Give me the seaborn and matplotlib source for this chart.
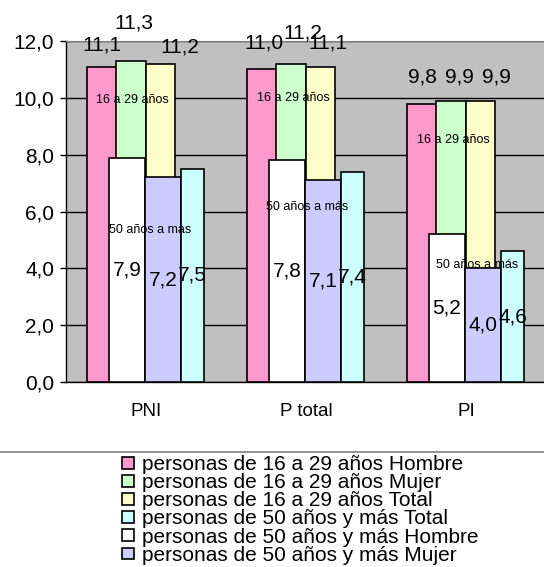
import numpy as np
import pandas as pd
import matplotlib
matplotlib.use('Agg')
import matplotlib.pyplot as plt
import seaborn as sns
from matplotlib.patches import Patch
from matplotlib.lines import Line2D
from matplotlib.ticker import FuncFormatter

# --- data ---
categories = ['PNI', 'P total', 'PI']
young_hombre = [11.1, 11.0, 9.8]
young_mujer = [11.3, 11.2, 9.9]
young_total = [11.2, 11.1, 9.9]
old_total = [7.5, 7.4, 4.6]
old_hombre = [7.9, 7.8, 5.2]
old_mujer = [7.2, 7.1, 4.0]
y_ticks = [0, 2, 4, 6, 8, 10, 12]

legend_labels = ['personas de 16 a 29 años Hombre',
                 'personas de 16 a 29 años Mujer',
                 'personas de 16 a 29 años Total',
                 'personas de 50 años y más Total',
                 'personas de 50 años y más Hombre',
                 'personas de 50 años y más Mujer']
young_note = ['16 a 29 años', '16 a 29 años', '16 a 29 años']
old_note = ['50 años a mas', '50 años a más', '50 años a más']

# --- style ---
pink, green, yellow = '#FF99CC', '#CCFFCC', '#FFFFCC'
cyan, white, lav = '#CCFFFF', '#FFFFFF', '#CCCCFF'
font = 'Liberation Sans'
big = 15

sns.set_style('white')
plt.rcParams['font.family'] = [font, 'DejaVu Sans']
for key in ['text.color', 'axes.labelcolor', 'xtick.color', 'ytick.color']:
    plt.rcParams[key] = 'black'

fig = plt.figure(figsize=(5.44, 5.67), dpi=100)
ax = fig.add_axes([66 / 544, 185 / 567, 480 / 544, 341 / 567])
ax.set_facecolor('#C0C0C0')

pos = np.arange(len(categories))
# (values, colour, offset from category centre, width, zorder)
series = [
    (young_hombre, pink, -0.275, 0.182, 2),
    (young_mujer, green, -0.093, 0.185, 2),
    (young_total, yellow, 0.091, 0.182, 2),
    (old_hombre, white, -0.119, 0.225, 3),
    (old_mujer, lav, 0.106, 0.225, 3),
    (old_total, cyan, 0.291, 0.144, 3),
]
for vals, col, off, w, z in series:
    df = pd.DataFrame({'x': pos + off, 'y': vals})
    sns.barplot(data=df, x='x', y='y', native_scale=True, width=w, color=col,
                saturation=1, edgecolor='black', linewidth=1.2, errorbar=None,
                ax=ax, zorder=z)

fmt = lambda v: f'{v:.1f}'.replace('.', ',')

# young labels sit above the bars, Excel shuffled them a bit
young_nudge = [[(0.0, 0.76), (0.02, 1.33), (0.12, 0.59)],
               [(0.01, 0.93), (0.075, 1.08), (0.047, 0.83)],
               [(0.0, 0.93), (0.053, 0.83), (0.1, 0.83)]]
for k, (vals, col, off, w, z) in enumerate(series[:3]):
    for i, v in enumerate(vals):
        dx, dy = young_nudge[i][k]
        ax.text(pos[i] + off + dx, v + dy, fmt(v), ha='center', va='center',
                fontsize=big, zorder=6, clip_on=False)
# old labels centred inside the bars
for vals, col, off, w, z in series[3:]:
    for i, v in enumerate(vals):
        ax.text(pos[i] + off, v / 2, fmt(v), ha='center', va='center',
                fontsize=big, zorder=6)

# small group notes
young_note_xy = [(-0.088, 9.92), (-0.081, 9.99), (-0.081, 8.51)]
old_note_xy = [(0.025, 5.35), (0.006, 6.16), (0.069, 4.12)]
for i in range(len(categories)):
    ax.text(pos[i] + young_note_xy[i][0], young_note_xy[i][1], young_note[i],
            ha='center', va='center', fontsize=9, zorder=7)
    ax.text(pos[i] + old_note_xy[i][0], old_note_xy[i][1], old_note[i],
            ha='center', va='center', fontsize=9, zorder=7)

# axes
ax.set_xlim(-0.5, len(categories) - 0.5)
ax.set_ylim(0, 12)
ax.set_yticks(y_ticks)
ax.yaxis.set_major_formatter(FuncFormatter(lambda v, p: fmt(v)))
ax.yaxis.grid(True, color='black', linewidth=1)
ax.set_axisbelow(True)
ax.set_xticks(np.arange(-0.5, len(categories), 1.0))
ax.set_xticklabels([])
ax.set_xticks(pos, minor=True)
ax.set_xticklabels(categories, minor=True, fontsize=13.5)
ax.tick_params(axis='x', which='major', direction='out', length=4, width=1, color='black')
ax.tick_params(axis='x', which='minor', length=0, pad=15)
ax.tick_params(axis='y', direction='out', length=4.5, width=1, color='black',
               pad=4, labelsize=big, left=True)
ax.set_xlabel('')
ax.set_ylabel('')
for s in ['left', 'bottom']:
    ax.spines[s].set_color('black')
    ax.spines[s].set_linewidth(1)
ax.spines['top'].set_color('#808080')
ax.spines['right'].set_visible(False)

# separator line and legend
fig.add_artist(Line2D([0, 1], [115 / 567, 115 / 567], color='#808080', linewidth=1.2))
colors = [pink, green, yellow, cyan, white, lav]
handles = [Patch(facecolor=c, edgecolor='black', linewidth=1.2) for c in colors]
fig.legend(handles, legend_labels, loc='upper left', bbox_to_anchor=(122 / 544, 112 / 567),
           frameon=False, fontsize=big, labelspacing=-0.04, handlelength=0.58,
           handleheight=0.5, handletextpad=0.38, borderpad=0, borderaxespad=0)

fig.savefig('out.png', dpi=100, facecolor='white')
